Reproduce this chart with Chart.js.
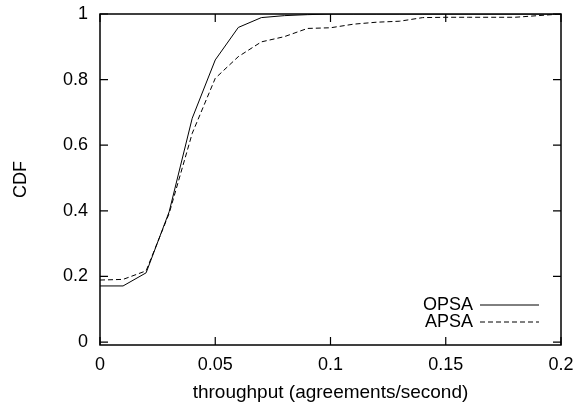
<!DOCTYPE html>
<html>
<head>
<meta charset="utf-8">
<script src="https://cdn.jsdelivr.net/npm/chart.js@4/dist/chart.umd.min.js"></script>
<style>
  html, body { margin: 0; padding: 0; background: #fff; }
  #wrap { width: 584px; height: 408px; }
</style>
</head>
<body>
<div id="wrap"><canvas id="cdfChart"></canvas></div>
<script>
// throughput values (agreements/second)
const throughput = [0, 0.01, 0.02, 0.03, 0.04, 0.05, 0.06, 0.07, 0.08, 0.09, 0.10,
                    0.11, 0.12, 0.13, 0.14, 0.15, 0.16, 0.17, 0.18, 0.19, 0.20];
const opsa = [0.171, 0.171, 0.211, 0.397, 0.682, 0.860, 0.959, 0.989, 0.995, 0.998, 1.0,
              1.0, 1.0, 1.0, 1.0, 1.0, 1.0, 1.0, 1.0, 1.0, 1.0];
const apsa = [0.189, 0.191, 0.217, 0.392, 0.636, 0.804, 0.870, 0.915, 0.931, 0.956, 0.958,
              0.969, 0.975, 0.978, 0.989, 0.990, 0.990, 0.990, 0.990, 0.995, 1.0];
const xTicks = [0, 0.05, 0.1, 0.15, 0.2];
const yTicks = [0, 0.2, 0.4, 0.6, 0.8, 1];

const FONT = 'Liberation Sans, Arial, sans-serif';
const FSIZE = 18;

function toPoints(xs, ys) {
    return xs.map((x, i) => ({ x: x, y: ys[i] }));
}

// gnuplot style frame: box border, inward ticks on all four sides, legend inside
const gnuplotFrame = {
    id: 'gnuplotFrame',
    afterDraw(chart) {
        const ctx = chart.ctx;
        const a = chart.chartArea;
        const xs = chart.scales.x, ys = chart.scales.y;
        ctx.save();
        ctx.strokeStyle = '#000';
        ctx.lineWidth = 1.5;
        ctx.strokeRect(a.left, a.top, a.right - a.left, a.bottom - a.top);
        ctx.lineWidth = 1.2;
        ctx.beginPath();
        xTicks.forEach(v => {
            const px = xs.getPixelForValue(v);
            ctx.moveTo(px, a.bottom); ctx.lineTo(px, a.bottom - 8);
            ctx.moveTo(px, a.top); ctx.lineTo(px, a.top + 8);
        });
        yTicks.forEach(v => {
            const py = ys.getPixelForValue(v);
            ctx.moveTo(a.left, py); ctx.lineTo(a.left + 8, py);
            ctx.moveTo(a.right, py); ctx.lineTo(a.right - 8, py);
        });
        ctx.stroke();

        // legend
        ctx.font = FSIZE + 'px ' + FONT;
        ctx.fillStyle = '#000';
        ctx.textAlign = 'right';
        ctx.textBaseline = 'middle';
        const rows = [305, 322];
        chart.data.datasets.forEach((ds, i) => {
            const y = rows[i];
            ctx.fillText(ds.label, 473, y);
            ctx.beginPath();
            ctx.lineWidth = 1;
            ctx.setLineDash(ds.borderDash || []);
            ctx.moveTo(480, y); ctx.lineTo(539, y);
            ctx.stroke();
        });
        ctx.restore();
    }
};

new Chart(document.getElementById('cdfChart').getContext('2d'), {
    type: 'line',
    data: {
        datasets: [
            {
                label: 'OPSA',
                data: toPoints(throughput, opsa),
                borderColor: '#000',
                borderWidth: 1,
                pointRadius: 0,
                tension: 0
            },
            {
                label: 'APSA',
                data: toPoints(throughput, apsa),
                borderColor: '#000',
                borderWidth: 1,
                borderDash: [5, 3],
                pointRadius: 0,
                tension: 0
            }
        ]
    },
    options: {
        responsive: true,
        maintainAspectRatio: false,
        animation: false,
        layout: { padding: { top: 14, right: 23, left: 0, bottom: 0 } },
        plugins: {
            legend: { display: false },
            tooltip: { enabled: false }
        },
        scales: {
            x: {
                type: 'linear',
                min: 0,
                max: 0.2,
                afterBuildTicks: s => { s.ticks = xTicks.map(v => ({ value: v })); },
                afterFit: s => { s.height = 63; s.paddingLeft = 0; s.paddingRight = 0; },
                grid: { display: false, drawTicks: false },
                border: { display: false },
                ticks: {
                    color: '#000',
                    font: { family: FONT, size: FSIZE },
                    padding: 9,
                    maxRotation: 0,
                    callback: v => String(v)
                },
                title: {
                    display: true,
                    text: 'throughput (agreements/second)',
                    color: '#000',
                    font: { family: FONT, size: 19 },
                    padding: { top: 6, bottom: 4 }
                }
            },
            y: {
                type: 'linear',
                min: -0.009,
                max: 1,
                afterBuildTicks: s => { s.ticks = yTicks.map(v => ({ value: v })); },
                afterFit: s => { s.width = 100; s.paddingTop = 0; s.paddingBottom = 0; },
                grid: { display: false, drawTicks: false },
                border: { display: false },
                ticks: {
                    color: '#000',
                    font: { family: FONT, size: FSIZE },
                    padding: 12,
                    callback: v => String(v)
                },
                title: {
                    display: true,
                    text: 'CDF',
                    color: '#000',
                    font: { family: FONT, size: FSIZE },
                    padding: { top: 10, bottom: 0 }
                }
            }
        }
    },
    plugins: [gnuplotFrame]
});
</script>
</body>
</html>
